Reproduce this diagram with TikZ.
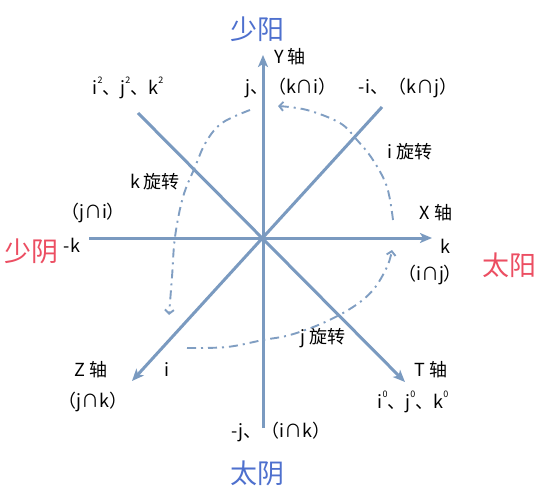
\documentclass[tikz,border=0pt]{standalone}
\usepackage{fontspec}
\setmainfont{Noto Sans CJK SC}
\usetikzlibrary{arrows.meta}
\definecolor{axisc}{RGB}{122,154,192}
\definecolor{curvec}{RGB}{128,158,194}
\definecolor{bluet}{RGB}{78,112,206}
\definecolor{redt}{RGB}{236,78,98}
\newcommand{\smallsup}[1]{\raisebox{0.62em}{\fontsize{9}{9}\selectfont #1}}
\begin{document}
\begin{tikzpicture}[x=1pt,y=-1pt,
  axisarrow/.style={draw=axisc,line width=3pt,-{Stealth[length=12pt,width=10pt,inset=3pt]}},
  rotpath/.style={draw=curvec,line width=1.9pt,dash pattern=on 9pt off 5pt on 2pt off 5pt,-{Straight Barb[length=4pt,width=9pt]}},
  lbl/.style={font=\fontsize{18}{20}\selectfont,inner sep=0pt},
  big/.style={font=\fontsize{27}{30}\selectfont,inner sep=0pt}]
\useasboundingbox (0,0) rectangle (548,494);
\fill[white] (0,0) rectangle (548,494);
% axes
\coordinate (O) at (263,238);
\coordinate (Ytop) at (263,55);
\coordinate (Ybot) at (263,428);
\coordinate (Xl) at (89,238);
\coordinate (Xr) at (432,238);
\coordinate (NW) at (138,113);
\coordinate (SE) at (405,382);
\coordinate (NE) at (382,107);
\coordinate (SW) at (132,381);
\draw[axisarrow] (Ybot) -- (Ytop);
\draw[axisarrow] (Xl) -- (Xr);
\draw[axisarrow] (NW) -- (SE);
\draw[axisarrow] (NE) -- (SW);
% rotations
\draw[rotpath] plot[smooth,tension=0.6] coordinates {(250,110) (222,123) (206,142) (195,167) (183,197) (175,237) (172,277) (169,315)};
\draw[rotpath] plot[smooth,tension=0.6] coordinates {(393,220) (387,187) (373,160) (357,140) (340,123) (307,110) (278,106)};
\draw[rotpath] plot[smooth,tension=0.6] coordinates {(187,348) (227,347) (263,340) (290,335) (323,323) (353,307) (373,290) (387,267) (392,250)};
% big labels
\node[big,text=bluet] (shaoyang) at (257,29) {少阳};
\node[big,text=bluet] (taiyin) at (257,473) {太阴};
\node[big,text=redt] (shaoyin) at (32,251) {少阴};
\node[big,text=redt] (taiyang) at (509,265) {太阳};
% small labels
\node[lbl] (yaxis) at (290,57) {Y 轴};
\node[lbl] (sq) at (128,88) {i\smallsup{2}、j\smallsup{2}、k\smallsup{2}};
\node[lbl] (jki) at (291,88) {j、（k∩i）};
\node[lbl] (ikj) at (408,88) {-i、（k∩j）};
\node[lbl] (irot) at (410,152) {i 旋转};
\node[lbl] (krot) at (155,182) {k 旋转};
\node[lbl] (ji) at (93,213) {（j∩i）};
\node[lbl] (xaxis) at (436,213) {X 轴};
\node[lbl] (mk) at (72,245) {-k};
\node[lbl] (k) at (445,246) {k};
\node[lbl] (ij) at (430,275) {（i∩j）};
\node[lbl] (jrot) at (323,338) {j 旋转};
\node[lbl] (zaxis) at (91,370) {Z 轴};
\node[lbl] (i) at (167,370) {i};
\node[lbl] (taxis) at (431,370) {T 轴};
\node[lbl] (jk) at (93,402) {（j∩k）};
\node[lbl] (zero) at (413,402) {i\smallsup{0}、j\smallsup{0}、k\smallsup{0}};
\node[lbl] (jik) at (281,432) {-j、（i∩k）};
\end{tikzpicture}
\end{document}
